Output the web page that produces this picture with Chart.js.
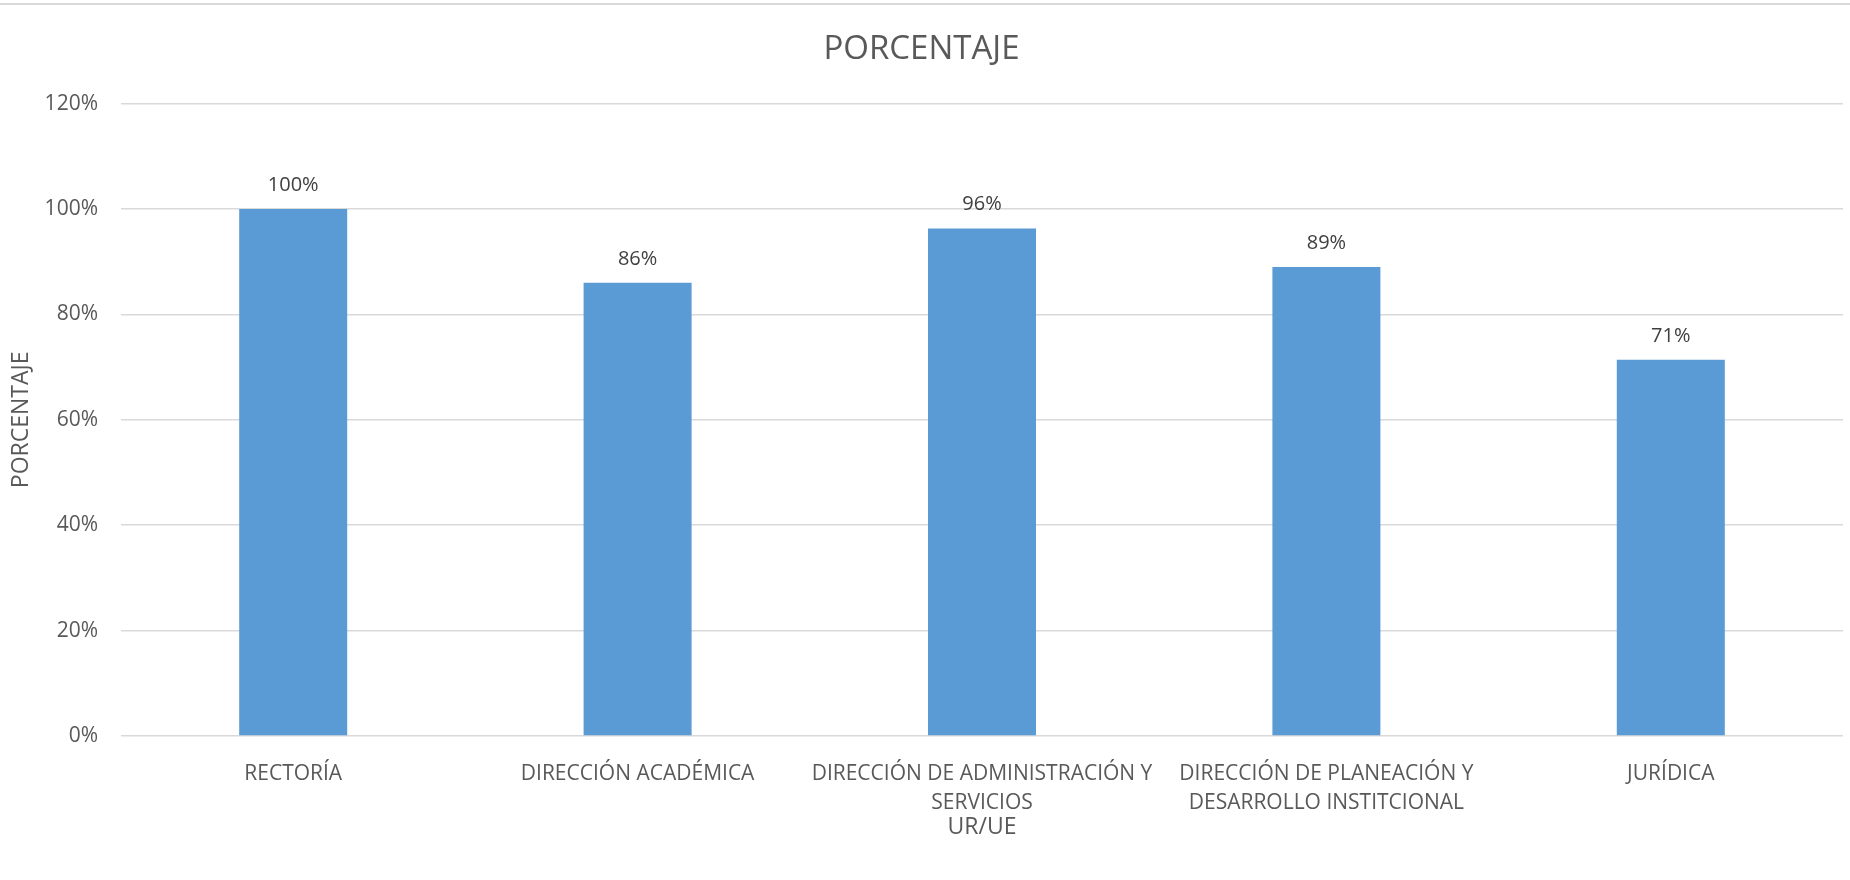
<!DOCTYPE html>
<html>
<head>
<meta charset="utf-8">
<script src="https://cdn.jsdelivr.net/npm/chart.js@4"></script>
<style>
  body { margin: 0; background: #fff; }
  canvas { display: block; }
</style>
</head>
<body>
<canvas id="chart" width="1850" height="880"></canvas>
<script>
// data
const categories = [
  'RECTORÍA',
  'DIRECCIÓN ACADÉMICA',
  ['DIRECCIÓN DE ADMINISTRACIÓN Y', 'SERVICIOS'],
  ['DIRECCIÓN DE PLANEACIÓN Y', 'DESARROLLO INSTITCIONAL'],
  'JURÍDICA'
];
const porcentaje = [1.0, 0.86, 0.963, 0.89, 0.714];
const yTicks = [0, 0.2, 0.4, 0.6, 0.8, 1.0, 1.2];

const textGrey = '#595959';
const fontName = '"Open Sans", sans-serif';

// labels on top of the bars + thin top border
const barLabels = {
  id: 'barLabels',
  beforeDraw(chart) {
    const ctx = chart.ctx;
    ctx.save();
    ctx.fillStyle = '#d9d9d9';
    ctx.fillRect(0, 3, chart.width, 2);
    ctx.restore();
  },
  afterDatasetsDraw(chart) {
    const ctx = chart.ctx;
    const meta = chart.getDatasetMeta(0);
    ctx.save();
    ctx.font = '20px ' + fontName;
    ctx.fillStyle = '#404040';
    ctx.textAlign = 'center';
    ctx.textBaseline = 'alphabetic';
    meta.data.forEach((bar, i) => {
      ctx.fillText(Math.round(porcentaje[i] * 100) + '%', bar.x, bar.y - 18);
    });
    ctx.restore();
  }
};

new Chart(document.getElementById('chart'), {
  type: 'bar',
  data: {
    labels: categories,
    datasets: [{
      label: 'PORCENTAJE',
      data: porcentaje,
      backgroundColor: '#5b9bd5',
      categoryPercentage: 0.3136,
      barPercentage: 1.0
    }]
  },
  options: {
    responsive: false,
    animation: false,
    layout: { padding: { left: 0, right: 7, top: 0, bottom: 0 } },
    plugins: {
      legend: { display: false },
      tooltip: { enabled: false },
      title: {
        display: true,
        text: 'PORCENTAJE',
        color: textGrey,
        font: { family: fontName, size: 33, weight: 'normal', lineHeight: 1.2 },
        padding: { top: 30, bottom: 34 }
      }
    },
    scales: {
      x: {
        grid: { display: false },
        border: { display: false },
        ticks: {
          color: textGrey,
          font: { family: fontName, size: 21, lineHeight: 1.38 },
          padding: 16,
          maxRotation: 0,
          autoSkip: false
        },
        title: {
          display: true,
          text: 'UR/UE',
          color: textGrey,
          font: { family: fontName, size: 23, lineHeight: 1.2 },
          padding: { top: 4, bottom: 39 }
        },
        afterFit(scale) { scale.height = 144; }
      },
      y: {
        min: 0,
        max: 1.2,
        afterBuildTicks(scale) { scale.ticks = yTicks.map(v => ({ value: v })); },
        grid: { color: '#d9d9d9', lineWidth: 1.5, drawTicks: false },
        border: { display: false },
        ticks: {
          color: textGrey,
          font: { family: fontName, size: 21 },
          padding: 23,
          callback: v => Math.round(v * 100) + '%'
        },
        title: {
          display: true,
          text: 'PORCENTAJE',
          color: textGrey,
          font: { family: fontName, size: 23, lineHeight: 1.2 },
          padding: { top: 8, bottom: 0 }
        },
        afterFit(scale) { scale.width = 121; }
      }
    }
  },
  plugins: [barLabels]
});
</script>
</body>
</html>
